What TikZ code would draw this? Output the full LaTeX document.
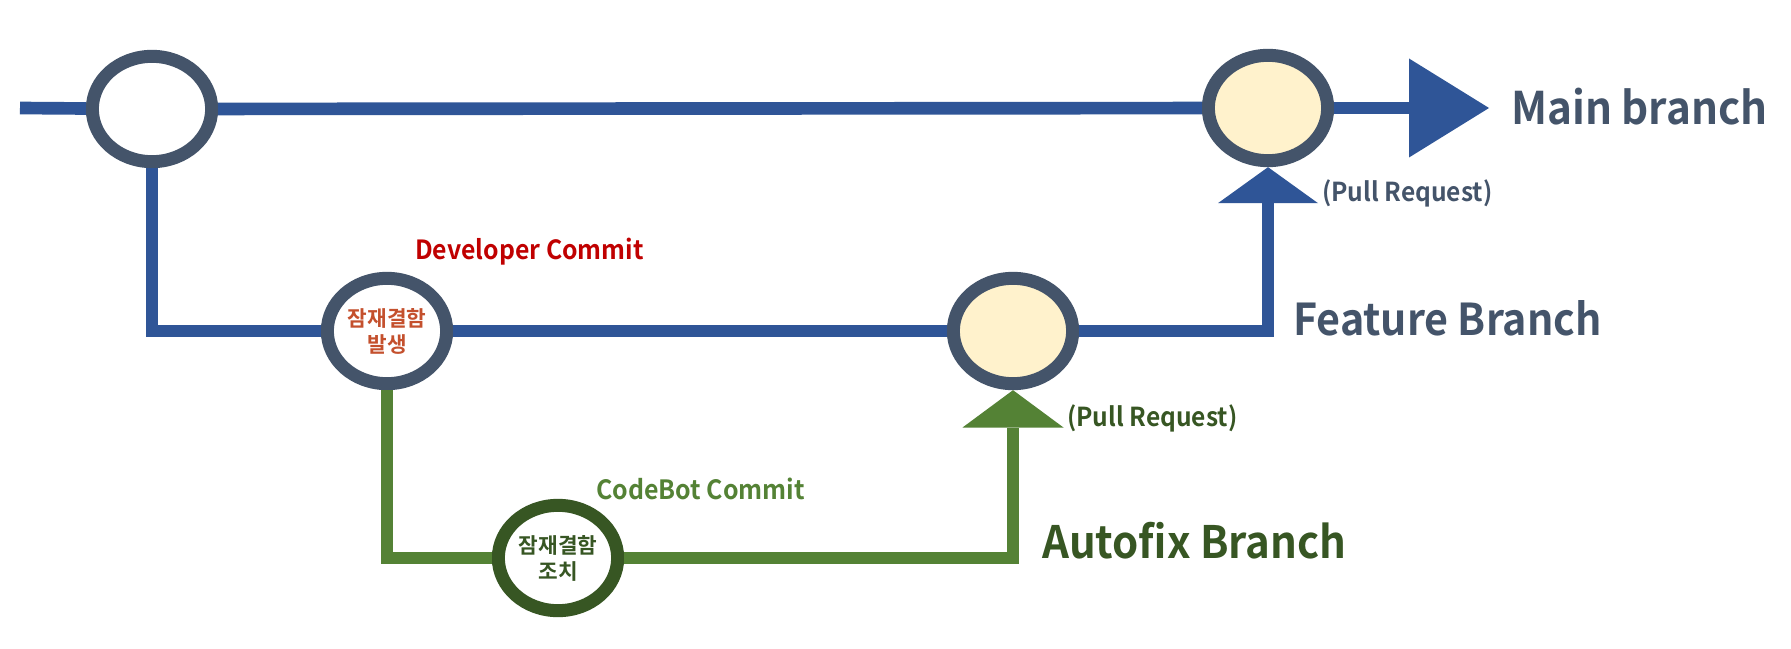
\documentclass[tikz,border=0pt]{standalone}
\usepackage{fontspec}
\setmainfont{Noto Sans CJK KR}[BoldFont={Noto Sans CJK KR Bold}]
\newfontfamily\lblfont{Noto Sans CJK KR Bold}[FakeStretch=0.94]
\usetikzlibrary{shapes.geometric,arrows.meta}
\definecolor{mblue}{HTML}{2F5597}
\definecolor{ring}{HTML}{44546A}
\definecolor{mgreen}{HTML}{548235}
\definecolor{dgreen}{HTML}{375623}
\definecolor{cream}{HTML}{FFF2CC}
\definecolor{dred}{HTML}{C00000}
\definecolor{ored}{HTML}{C4502D}
\begin{document}
\begin{tikzpicture}[x=0.75pt,y=-0.75pt,
  commit/.style={ellipse,draw=ring,line width=9.75pt,minimum width=89.5pt,minimum height=79pt,
    inner sep=0pt,fill=white,align=center,font=\bfseries\fontsize{16}{19.5}\selectfont},
  blueline/.style={draw=mblue,line width=9.5pt},
  greenline/.style={draw=mgreen,line width=9.5pt},
  lbl/.style={anchor=base west,inner sep=0pt,font=\lblfont\fontsize{#1}{#1}\selectfont},
]
\fill[white] (0,0) rectangle (1791,649);
\useasboundingbox (0,0) rectangle (1791,649);

% commits
\node[commit] (c1) at (152,109) {};
\node[commit,fill=cream] (c2) at (1268,108) {};
\node[commit,text=ored] (f1) at (387,331) {잠재결함\\발생};
\node[commit,fill=cream] (f2) at (1013,331) {};
\node[commit,draw=dgreen,text=dgreen] (a1) at (558,558) {잠재결함\\조치};

\coordinate (mstart) at (20,108);
\coordinate (mend) at (1489,108);

% main branch
\draw[blueline] (mstart) -- (c1);
\draw[blueline] (c1) -- (c2);
\draw[blueline,-{Triangle[width=74.25pt,length=60pt,line width=0pt]}] (c2) -- (mend);

% feature branch
\draw[blueline] (c1.south) |- (f1.west);
\draw[blueline] (f1) -- (f2);
\draw[blueline,-{Triangle[width=75pt,length=27pt,line width=0pt]}] (f2.east) -| (c2.south);

% autofix branch
\draw[greenline] (f1.south) |- (a1.west);
\draw[greenline,-{Triangle[width=75.75pt,length=28pt,line width=0pt]}] (a1.east) -| (f2.south);

% labels
\node[lbl=33.7,text=ring] (lmain) at (1511,125) {Main branch};
\node[lbl=32.9,text=ring] (lfeat) at (1293,335) {Feature Branch};
\node[lbl=33.5,text=dgreen] (lauto) at (1042,558) {Autofix Branch};
\node[lbl=19.8,text=dred] (ldev) at (415,259) {Developer Commit};
\node[lbl=19.9,text=mgreen] (lbot) at (596,499) {CodeBot Commit};
\node[lbl=19.6,text=ring] (lpr1) at (1322,201) {(Pull Request)};
\node[lbl=19.6,text=dgreen] (lpr2) at (1067,426) {(Pull Request)};
\end{tikzpicture}
\end{document}
